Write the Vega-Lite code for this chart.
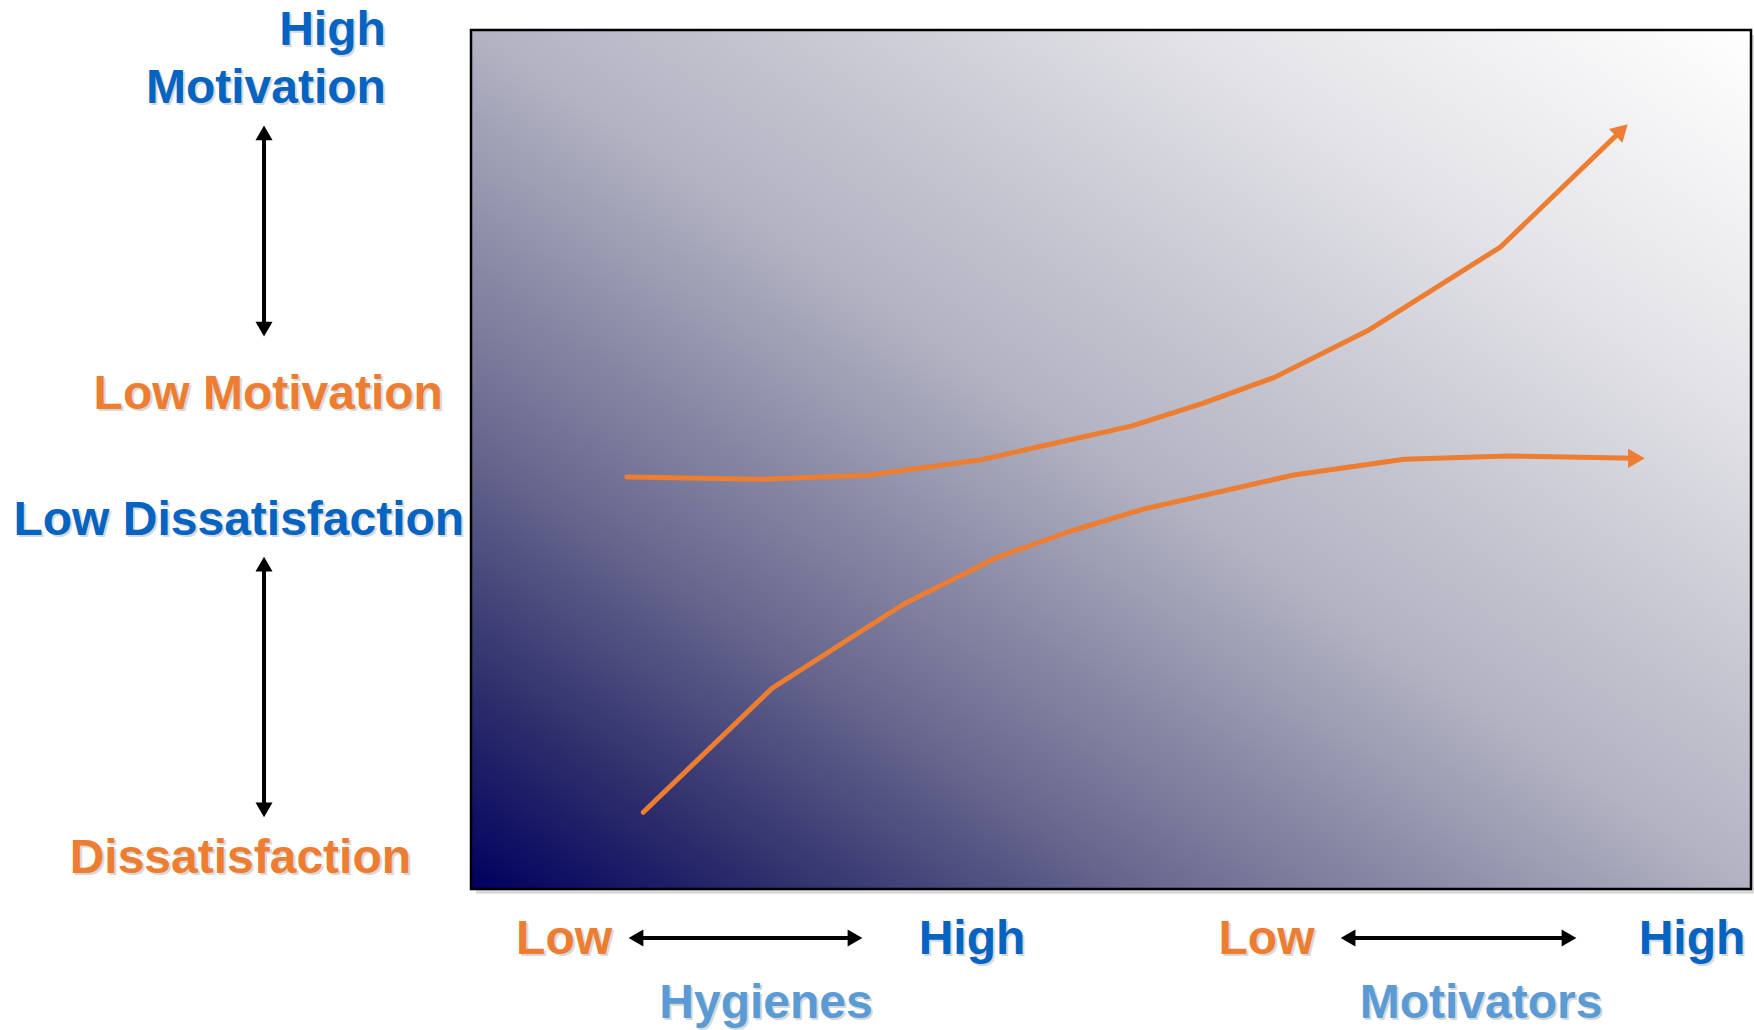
{
  "$schema": "https://vega.github.io/schema/vega-lite/v6.json",
  "width": 1280,
  "height": 859,
  "autosize": "none",
  "padding": {"left": 471, "top": 30, "right": 3, "bottom": 141},
  "background": "white",
  "config": {"view": {"stroke": null}},
  "datasets": {
    "box": [{"x": 0, "x2": 100, "y": 0, "y2": 100}],
    "shadow": [{"x": 0.4, "x2": 100.3, "y": -0.55, "y2": 99.4}],
    "curves": [
      {"series": "Motivators", "order": 1, "x": 12.17, "y": 47.96},
      {"series": "Motivators", "order": 2, "x": 22.63, "y": 47.69},
      {"series": "Motivators", "order": 3, "x": 31.01, "y": 48.16},
      {"series": "Motivators", "order": 4, "x": 39.73, "y": 49.93},
      {"series": "Motivators", "order": 5, "x": 51.59, "y": 53.89},
      {"series": "Motivators", "order": 6, "x": 57.16, "y": 56.53},
      {"series": "Motivators", "order": 7, "x": 62.77, "y": 59.56},
      {"series": "Motivators", "order": 8, "x": 70.04, "y": 64.98},
      {"series": "Motivators", "order": 9, "x": 80.45, "y": 74.76},
      {"series": "Motivators", "order": 10, "x": 89.8, "y": 88.2},
      {"series": "Hygienes", "order": 1, "x": 13.46, "y": 8.93},
      {"series": "Hygienes", "order": 2, "x": 23.51, "y": 23.36},
      {"series": "Hygienes", "order": 3, "x": 33.8, "y": 33.18},
      {"series": "Hygienes", "order": 4, "x": 41.12, "y": 38.61},
      {"series": "Hygienes", "order": 5, "x": 46.7, "y": 41.59},
      {"series": "Hygienes", "order": 6, "x": 52.45, "y": 44.2},
      {"series": "Hygienes", "order": 7, "x": 64.28, "y": 48.2},
      {"series": "Hygienes", "order": 8, "x": 72.91, "y": 50.02},
      {"series": "Hygienes", "order": 9, "x": 81.0, "y": 50.41},
      {"series": "Hygienes", "order": 10, "x": 91.0, "y": 50.14}
    ],
    "curveHeads": [
      {"series": "Motivators", "x": 89.9, "y": 88.35, "angle": 46},
      {"series": "Hygienes", "x": 91.05, "y": 50.14, "angle": 90}
    ],
    "guides": [
      {"guide": "motivation", "order": 1, "x": -16.17, "y": 65.19},
      {"guide": "motivation", "order": 2, "x": -16.17, "y": 88.01},
      {"guide": "dissatisfaction", "order": 1, "x": -16.17, "y": 9.2},
      {"guide": "dissatisfaction", "order": 2, "x": -16.17, "y": 37.83},
      {"guide": "hygienes", "order": 1, "x": 12.89, "y": -5.7},
      {"guide": "hygienes", "order": 2, "x": 30.0, "y": -5.7},
      {"guide": "motivators", "order": 1, "x": 68.52, "y": -5.7},
      {"guide": "motivators", "order": 2, "x": 85.78, "y": -5.7}
    ],
    "guideHeads": [
      {"x": -16.17, "y": 88.01, "angle": 0},
      {"x": -16.17, "y": 65.19, "angle": 180},
      {"x": -16.17, "y": 37.83, "angle": 0},
      {"x": -16.17, "y": 9.2, "angle": 180},
      {"x": 12.89, "y": -5.7, "angle": 270},
      {"x": 30.0, "y": -5.7, "angle": 90},
      {"x": 68.52, "y": -5.7, "angle": 270},
      {"x": 85.78, "y": -5.7, "angle": 90}
    ],
    "labels": [
      {"label": "High", "tone": "high", "x": -10.82, "y": 98.25},
      {"label": "Motivation", "tone": "high", "x": -16.02, "y": 91.5},
      {"label": "Low Motivation", "tone": "low", "x": -15.84, "y": 55.88},
      {"label": "Low Dissatisfaction", "tone": "high", "x": -18.14, "y": 41.21},
      {"label": "Dissatisfaction", "tone": "low", "x": -18.02, "y": 1.86},
      {"label": "Low", "tone": "low", "x": 7.27, "y": -7.57},
      {"label": "High", "tone": "high", "x": 39.14, "y": -7.57},
      {"label": "Low", "tone": "low", "x": 62.15, "y": -7.57},
      {"label": "High", "tone": "high", "x": 95.39, "y": -7.57},
      {"label": "Hygienes", "tone": "factor", "x": 23.05, "y": -15.02},
      {"label": "Motivators", "tone": "factor", "x": 78.91, "y": -15.02}
    ]
  },
  "encoding": {
    "x": {"field": "x", "type": "quantitative", "scale": {"domain": [0, 100], "nice": false, "zero": false}, "axis": null},
    "y": {"field": "y", "type": "quantitative", "scale": {"domain": [0, 100], "nice": false, "zero": false}, "axis": null}
  },
  "layer": [
    {
      "data": {"name": "shadow"},
      "mark": {"type": "rect", "fill": "#d9d9d9", "stroke": null},
      "encoding": {"x2": {"field": "x2"}, "y2": {"field": "y2"}}
    },
    {
      "data": {"name": "box"},
      "mark": {
        "type": "rect",
        "stroke": "black",
        "strokeWidth": 2.5,
        "fill": {
          "gradient": "linear",
          "x1": 0, "y1": 1, "x2": 1, "y2": 0,
          "stops": [
            {"offset": 0, "color": "#00005f"},
            {"offset": 0.12, "color": "#2e2e6c"},
            {"offset": 0.27, "color": "#6a6a90"},
            {"offset": 0.5, "color": "#b2b2c2"},
            {"offset": 0.8, "color": "#e6e6ea"},
            {"offset": 1, "color": "#ffffff"}
          ]
        }
      },
      "encoding": {"x2": {"field": "x2"}, "y2": {"field": "y2"}}
    },
    {
      "data": {"name": "curves"},
      "mark": {"type": "line", "color": "#ED7D31", "strokeWidth": 5, "strokeCap": "round", "strokeJoin": "round"},
      "encoding": {"order": {"field": "order", "type": "quantitative"}, "detail": {"field": "series", "type": "nominal"}}
    },
    {
      "data": {"name": "curveHeads"},
      "mark": {"type": "point", "shape": "triangle-up", "filled": true, "size": 370, "color": "#ED7D31", "opacity": 1},
      "encoding": {"angle": {"field": "angle", "type": "quantitative", "scale": {"domain": [0, 360], "range": [0, 360]}}}
    },
    {
      "data": {"name": "guides"},
      "mark": {"type": "line", "color": "black", "strokeWidth": 4},
      "encoding": {"order": {"field": "order", "type": "quantitative"}, "detail": {"field": "guide", "type": "nominal"}}
    },
    {
      "data": {"name": "guideHeads"},
      "mark": {"type": "point", "shape": "triangle-up", "filled": true, "size": 290, "color": "black", "opacity": 1},
      "encoding": {"angle": {"field": "angle", "type": "quantitative", "scale": {"domain": [0, 360], "range": [0, 360]}}}
    },
    {
      "data": {"name": "labels"},
      "mark": {"type": "text", "font": "Liberation Sans", "fontWeight": "bold", "fontSize": 48, "align": "center", "baseline": "alphabetic", "dx": 2, "dy": 2, "color": "#c8c8c8", "opacity": 0.7},
      "encoding": {"text": {"field": "label", "type": "nominal"}}
    },
    {
      "data": {"name": "labels"},
      "mark": {"type": "text", "font": "Liberation Sans", "fontWeight": "bold", "fontSize": 48, "align": "center", "baseline": "alphabetic"},
      "encoding": {
        "text": {"field": "label", "type": "nominal"},
        "color": {"field": "tone", "type": "nominal", "scale": {"domain": ["high", "low", "factor"], "range": ["#0563C1", "#ED7D31", "#5B9BD5"]}, "legend": null}
      }
    }
  ]
}
